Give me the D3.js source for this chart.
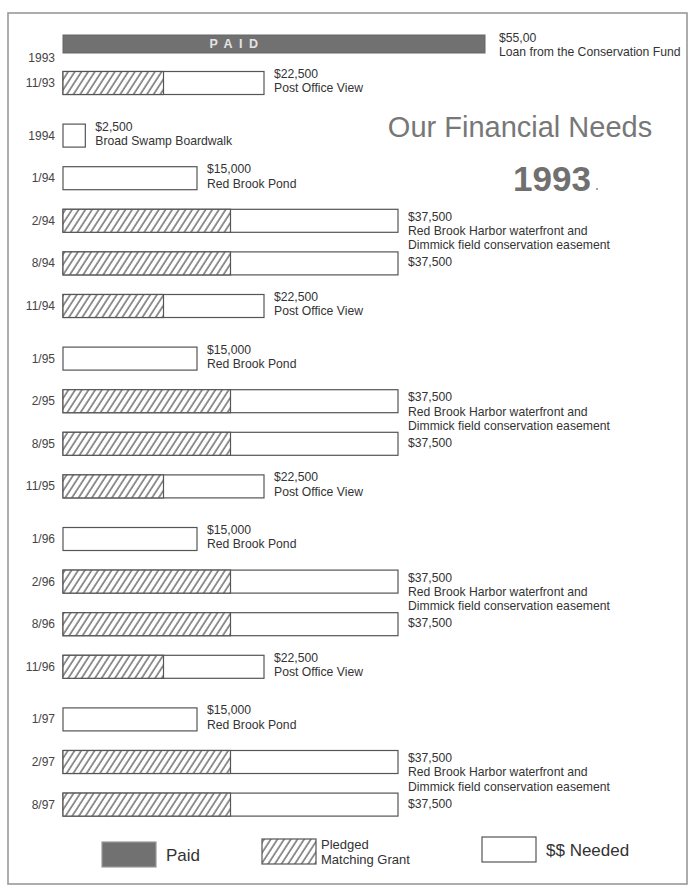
<!DOCTYPE html>
<html><head><meta charset="utf-8">
<script src="https://cdn.jsdelivr.net/npm/d3@7"></script>
<style>
html,body{margin:0;padding:0;background:#fff;}
svg{display:block;}
text{font-family:"Liberation Sans",Arial,sans-serif;}
</style></head>
<body>
<script>
// ---------- data ----------
const rowLabels = ["1993","11/93","1994","1/94","2/94","8/94","11/94","1/95","2/95","8/95","11/95","1/96","2/96","8/96","11/96","1/97","2/97","8/97"];
const yearGroups = [0,0,1,1,1,1,1,2,2,2,2,3,3,3,3,4,4,4];
const paidValues = [55000,0,0,0,0,0,0,0,0,0,0,0,0,0,0,0,0,0];
const totalValues = [0,22500,2500,15000,37500,37500,22500,15000,37500,37500,22500,15000,37500,37500,22500,15000,37500,37500];
const pledgedValues = [0,11250,0,0,18750,18750,11250,0,18750,18750,11250,0,18750,18750,11250,0,18750,18750];
const amountLabels = ["$55,00","$22,500","$2,500","$15,000","$37,500","$37,500","$22,500","$15,000","$37,500","$37,500","$22,500","$15,000","$37,500","$37,500","$22,500","$15,000","$37,500","$37,500"];
const projectNames = [
  ["Loan from the Conservation Fund"],
  ["Post Office View"],
  ["Broad Swamp Boardwalk"],
  ["Red Brook Pond"],
  ["Red Brook Harbor waterfront and","Dimmick field conservation easement"],
  [],
  ["Post Office View"],
  ["Red Brook Pond"],
  ["Red Brook Harbor waterfront and","Dimmick field conservation easement"],
  [],
  ["Post Office View"],
  ["Red Brook Pond"],
  ["Red Brook Harbor waterfront and","Dimmick field conservation easement"],
  [],
  ["Post Office View"],
  ["Red Brook Pond"],
  ["Red Brook Harbor waterfront and","Dimmick field conservation easement"],
  []
];
const legendLabels = [["Paid"],["Pledged","Matching  Grant"],["$$ Needed"]];
const titleText = "Our Financial Needs";
const yearText = "1993";

// ---------- layout ----------
const W = 691, H = 888;
const svg = d3.select("body").append("svg").attr("width", W).attr("height", H);

const defs = svg.append("defs");
const pat = defs.append("pattern").attr("id","hatch").attr("patternUnits","userSpaceOnUse")
  .attr("width",5.6).attr("height",10).attr("patternTransform","rotate(33)");
pat.append("rect").attr("width",5.6).attr("height",10).attr("fill","#fff");
pat.append("line").attr("x1",1).attr("x2",1).attr("y1",0).attr("y2",10).attr("stroke","#444").attr("stroke-width",1.15);

// frame
svg.append("rect").attr("x",8).attr("y",13).attr("width",679).attr("height",871)
  .attr("fill","none").attr("stroke","#999").attr("stroke-width",1.6);

const x0 = 63;
const x = d3.scaleLinear().domain([0,37500]).range([x0,398]);
const xPaid = d3.scaleLinear().domain([0,55000]).range([x0,485]);

// vertical positions: row step + extra gap between year groups
const rowStep = 42.6, groupGap = 10, firstY = 83, paidY = 44;
const idx = d3.range(rowLabels.length);
const yC = i => i === 0 ? paidY : firstY + (i-1)*rowStep + (yearGroups[i]-yearGroups[1])*groupGap;
const barH = 23, paidH = 18;

const g = svg.append("g");

// row labels
g.selectAll("text.rowlab").data(idx).join("text")
  .attr("class","rowlab")
  .attr("x",55).attr("y", i => i===0 ? yC(i)+18 : yC(i)+4)
  .attr("text-anchor","end").attr("font-size",12).attr("fill","#444")
  .text(i => rowLabels[i]);

// paid bar
const paidRows = idx.filter(i => paidValues[i] > 0);
g.selectAll("rect.paid").data(paidRows).join("rect")
  .attr("class","paid")
  .attr("x", xPaid(0)).attr("y", i => yC(i)-paidH/2)
  .attr("width", i => xPaid(paidValues[i]) - xPaid(0)).attr("height", paidH)
  .attr("fill","#717171").attr("stroke","#666").attr("stroke-width",1);
g.selectAll("text.paidtxt").data(paidRows).join("text")
  .attr("x", i => (xPaid(0)+xPaid(paidValues[i]))/2 - 37).attr("y", i => yC(i)+4)
  .attr("text-anchor","middle").attr("font-size",12.5).attr("font-weight","bold")
  .attr("letter-spacing",6.5).attr("fill","#e4e4e4").text("PAID");

// needed bars (total outline, white)
const needRows = idx.filter(i => totalValues[i] > 0);
g.selectAll("rect.need").data(needRows).join("rect")
  .attr("class","need")
  .attr("x", x(0)).attr("y", i => yC(i)-barH/2)
  .attr("width", i => x(totalValues[i]) - x(0)).attr("height", barH)
  .attr("fill","#fff").attr("stroke","#555").attr("stroke-width",1.2);

// pledged hatched
const pledRows = idx.filter(i => pledgedValues[i] > 0);
g.selectAll("rect.pled").data(pledRows).join("rect")
  .attr("class","pled")
  .attr("x", x(0)).attr("y", i => yC(i)-barH/2)
  .attr("width", i => x(pledgedValues[i]) - x(0)).attr("height", barH)
  .attr("fill","url(#hatch)").attr("stroke","#555").attr("stroke-width",1.2);

// right-side labels
idx.forEach(i => {
  const end = paidValues[i] > 0 ? xPaid(paidValues[i]) + 14 : x(totalValues[i]) + 10;
  const lines = [amountLabels[i]].concat(projectNames[i]);
  let start;
  if (i === 0) start = yC(i) - 2;
  else if (lines.length === 3) start = yC(i);
  else if (lines.length === 2) start = yC(i) - 5;
  else start = yC(i) + 3;
  const t = g.append("text").attr("x", end).attr("y", start).attr("font-size",12.2).attr("fill","#333");
  lines.forEach((s,k) => t.append("tspan").attr("x", end).attr("dy", k===0 ? 0 : 14.3).text(s));
});

// title
svg.append("text").attr("x",520).attr("y",137).attr("text-anchor","middle")
  .attr("font-family","Lato, 'Noto Sans', sans-serif").attr("font-size",29).attr("fill","#777")
  .text(titleText);
svg.append("text").attr("x",552).attr("y",191).attr("text-anchor","middle")
  .attr("font-size",35).attr("font-weight","bold").attr("fill","#707070")
  .text(yearText);
svg.append("circle").attr("cx",597).attr("cy",189).attr("r",1).attr("fill","#888");

// legend
const lg = svg.append("g");
const legX = [102,262,482], legY = [842,839,837], legW = 54, legH = 25;
const legFill = ["#717171","url(#hatch)","#fff"];
legendLabels.forEach((lab,k) => {
  lg.append("rect").attr("x",legX[k]).attr("y",legY[k]).attr("width",legW).attr("height",legH)
    .attr("fill",legFill[k]).attr("stroke", k===0 ? "#999" : "#555").attr("stroke-width",1.2);
  const tx = legX[k] + legW + (k===1 ? 5 : 10);
  if (lab.length === 1) {
    lg.append("text").attr("x",tx).attr("y",legY[k]+legH/2+6).attr("font-size",17).attr("fill","#333").text(lab[0]);
  } else {
    const t = lg.append("text").attr("x",tx).attr("y",legY[k]+10).attr("font-size",13).attr("fill","#333");
    lab.forEach((s,j) => t.append("tspan").attr("x",tx).attr("dy", j===0?0:15).text(s));
  }
});
</script>
</body></html>
